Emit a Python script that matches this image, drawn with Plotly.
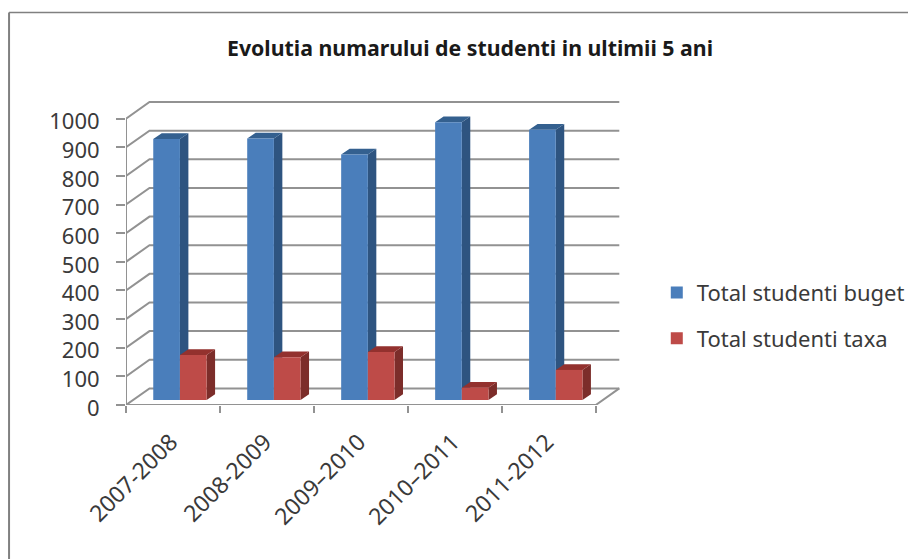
import plotly.graph_objects as go

# ---- data ----
TITLE = "Evolutia numarului de studenti in ultimii 5 ani"
years = ["2007-2008", "2008-2009", "2009–2010", "2010–2011", "2011-2012"]
buget = [911, 913, 857, 970, 944]
taxa = [157, 149, 168, 43, 105]
y_ticks = [0, 100, 200, 300, 400, 500, 600, 700, 800, 900, 1000]

# ---- pseudo-3D projection constants (axis units) ----
WALL_DX, WALL_DY = 0.25, 58
BAR_DX, BAR_DY = 0.09, 20
BAR_BASE = 17.5
BAR_W = 0.284
BAR_START = 0.29

PAGE = 8  # the page body adds this margin around the figure
W, H = 916 - PAGE, 559 - PAGE
L, R_PX = 126 - PAGE, 126 - PAGE + 94 * 5.3
BOTTOM_PX = 405 - PAGE
Y_MAX = 1065
TOP_PX = BOTTOM_PX - 0.286 * Y_MAX
GRAY = "#929292"
TEXT = "#3a3a3a"
FONT = "Noto Sans"


def polys(lefts, values, face):
    xs, ys = [], []
    for x0, v in zip(lefts, values):
        top = BAR_BASE + v
        x1 = x0 + BAR_W
        if face == "side":
            px = [x1, x1 + BAR_DX, x1 + BAR_DX, x1, x1]
            py = [BAR_BASE, BAR_BASE + BAR_DY, top + BAR_DY, top, BAR_BASE]
        else:
            px = [x0, x0 + BAR_DX, x1 + BAR_DX, x1, x0]
            py = [top, top + BAR_DY, top + BAR_DY, top, top]
        xs += px + [None]
        ys += py + [None]
    return xs, ys


fig = go.Figure()

# back wall and floor
for t in y_ticks:
    fig.add_trace(go.Scatter(
        x=[0, WALL_DX, 5 + WALL_DX], y=[t, t + WALL_DY, t + WALL_DY],
        mode="lines", line=dict(color=GRAY, width=2), showlegend=False,
        hoverinfo="skip", cliponaxis=False, zorder=0))
fig.add_trace(go.Scatter(
    x=[0, 0, None, 0, 5, 5 + WALL_DX], y=[1000, 0, None, 0, 0, WALL_DY],
    mode="lines", line=dict(color=GRAY, width=2), showlegend=False,
    hoverinfo="skip", cliponaxis=False, zorder=0))

series = [
    ("Total studenti buget", buget, 0.0, "#4A7EBB", "#2E5480", "#34608F", 1),
    ("Total studenti taxa", taxa, BAR_W, "#BE4B48", "#7C2D2A", "#93312E", 3),
]
for name, vals, shift, front, side, top, z in series:
    lefts = [k + BAR_START + shift for k in range(len(years))]
    for face, col in (("side", side), ("top", top)):
        xs, ys = polys(lefts, vals, face)
        fig.add_trace(go.Scatter(
            x=xs, y=ys, mode="lines", fill="toself", fillcolor=col,
            line=dict(width=0, color=col), showlegend=False,
            hoverinfo="skip", zorder=z))
    fig.add_trace(go.Bar(
        x=[v + BAR_W / 2 for v in lefts], y=vals, base=BAR_BASE, width=BAR_W,
        name=name, marker=dict(color=front, line=dict(width=0)),
        legendgroup=name, zorder=z + 1))

px = lambda p: (p - PAGE - L) / (R_PX - L)
py = lambda p: (BOTTOM_PX - (p - PAGE)) / (BOTTOM_PX - TOP_PX)

fig.update_layout(
    width=W, height=H, autosize=False,
    margin=dict(l=L, r=W - R_PX, t=TOP_PX, b=H - BOTTOM_PX, pad=0, autoexpand=False),
    paper_bgcolor="#ffffff", plot_bgcolor="rgba(0,0,0,0)",
    barmode="overlay",
    title=dict(text="<b>" + TITLE + "</b>", x=(470 - PAGE) / W, xanchor="center",
               y=1 - (49 - PAGE) / H, yanchor="middle",
               font=dict(family=FONT, size=21.3, color="#1a1a1a")),
    xaxis=dict(range=[0, 5.3], tickmode="array",
               tickvals=[k + 0.5 for k in range(len(years))], ticktext=years,
               tickangle=-45, ticks="", showgrid=False, showline=False,
               zeroline=False, ticklabelstandoff=18, ticklabelshift=-2,
               tickfont=dict(family=FONT, size=23, color=TEXT),
               minor=dict(tickmode="array", tickvals=list(range(len(years) + 1)),
                          ticks="outside", ticklen=7, tickwidth=2, tickcolor=GRAY,
                          showgrid=False)),
    yaxis=dict(range=[0, Y_MAX], tickmode="array", tickvals=y_ticks,
               ticks="outside", ticklen=9, tickwidth=2, tickcolor=GRAY,
               showgrid=False, showline=False, zeroline=False,
               ticklabelstandoff=12, ticklabelshift=3,
               tickfont=dict(family=FONT, size=22, color=TEXT)),
    legend=dict(x=px(657), y=py(272), xanchor="left", yanchor="top",
                traceorder="grouped", tracegroupgap=14, bgcolor="rgba(0,0,0,0)",
                font=dict(family=FONT, size=22, color=TEXT)),
    shapes=[
        dict(type="line", xref="paper", yref="paper", x0=px(9), x1=px(916),
             y0=py(13), y1=py(13), line=dict(color="#808080", width=1.5)),
        dict(type="line", xref="paper", yref="paper", x0=px(9), x1=px(9),
             y0=py(13), y1=py(559), line=dict(color="#808080", width=2)),
    ],
)

fig.write_html("out.html")
